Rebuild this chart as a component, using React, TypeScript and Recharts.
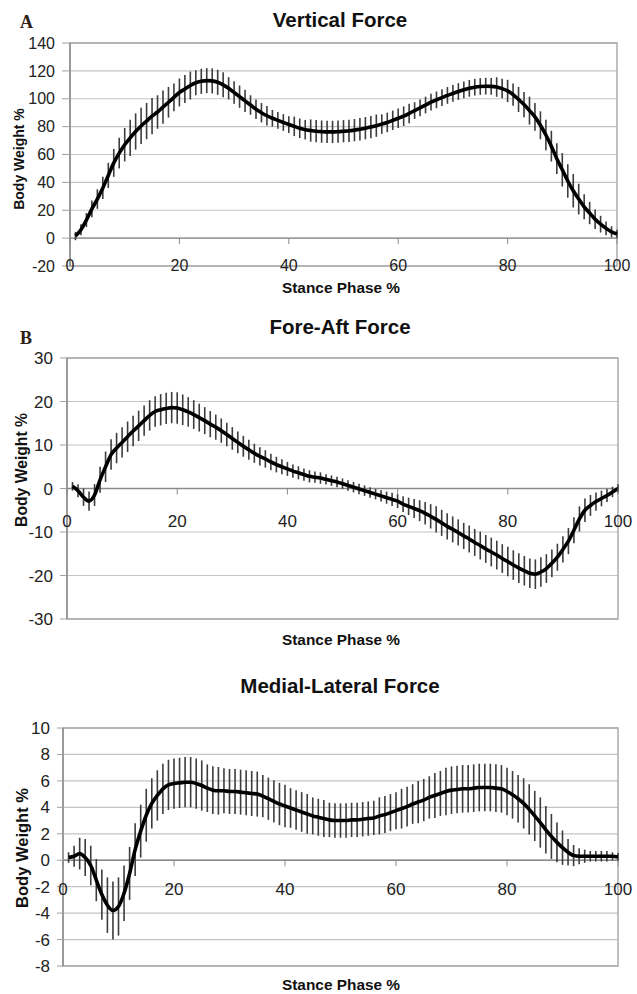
import {
  LineChart,
  Line,
  XAxis,
  YAxis,
  CartesianGrid,
  ErrorBar,
  ReferenceLine,
  ReferenceArea,
} from "recharts";

const FONT = '"Liberation Sans", Arial, sans-serif';
const PAGE_W = 637;
const PAGE_H = 994;

// stance phase 1..100 %
const stance = Array.from({ length: 100 }, (_, i) => i + 1);
const phaseTicks = [0, 20, 40, 60, 80, 100];

// A - vertical force (mean / SD, % body weight)
const verticalMean = [
  1.5, 6, 13, 21, 28, 36, 45, 54, 61, 67,
  72, 76.5, 80.5, 84, 87.5, 90.5, 94, 97.5, 101, 104.5,
  107, 109.5, 111.5, 112.5, 113, 112.8, 111.8, 110, 107.5, 104.5,
  101.5, 98.5, 95.5, 92.5, 90, 87.8, 86, 84.5, 83, 81.5,
  80.2, 78.8, 77.8, 77.2, 76.7, 76.4, 76.2, 76.2, 76.4, 76.7,
  77, 77.5, 78.1, 78.9, 79.7, 80.7, 81.8, 83, 84.5, 86,
  87.5, 89.5, 91.5, 93.5, 95.5, 97.5, 99.2, 100.8, 102.4, 103.8,
  105.2, 106.4, 107.5, 108.3, 108.8, 109, 108.9, 108.4, 107.3, 105.6,
  103, 99.5, 95.8, 91.5, 87, 81, 74, 66, 57, 49,
  41, 34, 28, 22.5, 18, 13.5, 10, 7, 4.5, 3,
];
const verticalSd = [
  3, 4, 5, 6, 7, 8, 9, 10, 11, 12,
  13, 13, 13, 13, 13, 12, 12, 11, 10, 10,
  10, 10, 9, 9, 9, 9, 9, 9, 8, 8,
  8, 8, 7, 7, 7, 7, 6, 6, 6, 6,
  7, 7, 7, 8, 8, 8, 8, 8, 8, 8,
  8, 8, 8, 8, 8, 8, 7, 7, 7, 7,
  7, 7, 6, 6, 6, 6, 6, 6, 6, 6,
  6, 6, 6, 6, 6, 6, 6, 7, 7, 8,
  8, 9, 9, 10, 10, 10, 11, 11, 11, 12,
  12, 12, 11, 9, 8, 7, 6, 5, 4, 3,
];
const verticalTicks = [-20, 0, 20, 40, 60, 80, 100, 120, 140];

// B - fore-aft force
const foreAftMean = [
  0.5, -0.5, -2, -2.9, -1.5, 2, 5, 7.8, 9.3, 10.6,
  11.9, 13.2, 14.4, 15.6, 16.8, 17.7, 18.1, 18.4, 18.6, 18.5,
  18.1, 17.6, 17, 16.3, 15.6, 14.8, 14.1, 13.3, 12.4, 11.5,
  10.6, 9.7, 8.9, 8.1, 7.4, 6.8, 6.1, 5.5, 5, 4.5,
  4, 3.6, 3.2, 2.8, 2.6, 2.4, 2.1, 1.8, 1.5, 1.1,
  0.7, 0.3, -0.1, -0.5, -0.9, -1.3, -1.7, -2.1, -2.5, -2.9,
  -3.6, -4.1, -4.6, -5.1, -5.7, -6.4, -7.1, -7.9, -8.7, -9.4,
  -10.1, -10.9, -11.6, -12.4, -13.1, -13.9, -14.6, -15.3, -16.1, -16.8,
  -17.6, -18.3, -18.9, -19.5, -19.7, -19.2, -18.4, -17.2, -15.8, -14,
  -12.1, -9.6, -7, -5, -3.9, -3, -2.3, -1.6, -0.8, 0,
];
const foreAftSd = [
  1, 1.5, 2, 2.2, 2.5, 3, 3.5, 3.5, 3.5, 3.5,
  3.5, 3.5, 3.5, 3.5, 3.5, 3.5, 3.6, 3.6, 3.6, 3.6,
  3.5, 3.4, 3.3, 3.2, 3.1, 3, 2.9, 2.8, 2.7, 2.6,
  2.5, 2.4, 2.3, 2.2, 2.1, 2, 1.9, 1.8, 1.7, 1.6,
  1.5, 1.5, 1.4, 1.4, 1.3, 1.3, 1.2, 1.2, 1.2, 1.2,
  1.2, 1.2, 1.2, 1.2, 1.2, 1.2, 1.3, 1.4, 1.5, 1.6,
  1.8, 2, 2.2, 2.4, 2.6, 2.8, 3, 3, 3, 3,
  3, 3, 3.1, 3.1, 3.2, 3.2, 3.3, 3.3, 3.3, 3.4,
  3.4, 3.4, 3.4, 3.4, 3.4, 3.4, 3.3, 3.2, 3.1, 3,
  3, 3, 2.9, 2.7, 2.4, 2.1, 1.8, 1.5, 1.2, 1,
];
const foreAftTicks = [-30, -20, -10, 0, 10, 20, 30];

// C - medial-lateral force
const medLatMean = [
  0.2, 0.3, 0.5, 0.2, -0.4, -1.5, -2.6, -3.4, -3.8, -3.5,
  -2.5, -1, 0.8, 2.2, 3.4, 4.3, 4.9, 5.4, 5.7, 5.8,
  5.85, 5.9, 5.9, 5.8, 5.65, 5.45, 5.3, 5.25, 5.25, 5.2,
  5.2, 5.15, 5.1, 5.05, 5, 4.85, 4.65, 4.45, 4.25, 4.1,
  3.95, 3.8, 3.65, 3.5, 3.35, 3.25, 3.15, 3.05, 3, 3,
  3, 3.05, 3.05, 3.1, 3.15, 3.2, 3.35, 3.45, 3.6, 3.75,
  3.9, 4.05, 4.25, 4.4, 4.55, 4.75, 4.9, 5.05, 5.2, 5.3,
  5.35, 5.4, 5.4, 5.45, 5.5, 5.5, 5.5, 5.45, 5.4, 5.2,
  4.95, 4.65, 4.3, 3.85, 3.35, 2.85, 2.3, 1.8, 1.35, 0.95,
  0.6, 0.35, 0.3, 0.3, 0.3, 0.3, 0.3, 0.3, 0.3, 0.25,
];
const medLatSd = [
  0.4, 0.8, 1.2, 1.4, 1.5, 1.6, 1.9, 2.1, 2.2, 2.2,
  2.1, 2, 2, 2, 2, 1.9, 1.9, 1.9, 1.9, 1.9,
  1.9, 1.9, 1.9, 1.9, 1.9, 1.8, 1.8, 1.8, 1.7, 1.7,
  1.7, 1.7, 1.7, 1.7, 1.7, 1.6, 1.6, 1.6, 1.6, 1.6,
  1.5, 1.5, 1.5, 1.5, 1.4, 1.4, 1.4, 1.3, 1.3, 1.3,
  1.3, 1.3, 1.3, 1.3, 1.3, 1.3, 1.4, 1.4, 1.4, 1.4,
  1.5, 1.5, 1.5, 1.6, 1.6, 1.6, 1.7, 1.7, 1.8, 1.8,
  1.8, 1.8, 1.8, 1.8, 1.8, 1.8, 1.8, 1.8, 1.8, 1.8,
  1.8, 1.8, 1.9, 1.9, 1.9, 1.9, 1.8, 1.7, 1.5, 1.3,
  1, 0.8, 0.6, 0.5, 0.4, 0.4, 0.4, 0.4, 0.3, 0.3,
];
const medLatTicks = [-8, -6, -4, -2, 0, 2, 4, 6, 8, 10];

type PanelProps = {
  mean: number[];
  sd: number[];
  ticks: number[];
  plotTop: number;
  plotBottom: number;
  plotLeft: number;
  plotRight: number;
  yTickSize: number;
  labelDy: number; // x tick label centre below the zero line
  fontSize: number;
};

function Panel(p: PanelProps) {
  const rows = stance.map((x, i) => ({ x, mean: p.mean[i], sd: p.sd[i] }));
  const min = p.ticks[0];
  const max = p.ticks[p.ticks.length - 1];
  const zeroDy = ((p.plotBottom - p.plotTop) * (0 - min)) / (max - min);
  const axisH = 20;

  const phaseTick = (props: any) => {
    const { x, y, payload } = props;
    const zy = y - zeroDy;
    return (
      <g>
        <line x1={x} x2={x} y1={zy} y2={zy + 6} stroke="#8a8a8a" strokeWidth={1} />
        <text
          x={x}
          y={zy + p.labelDy}
          textAnchor="middle"
          dominantBaseline="central"
          fontSize={p.fontSize}
          fontFamily={FONT}
          fill="#222"
        >
          {payload.value}
        </text>
      </g>
    );
  };

  return (
    <div style={{ position: "absolute", left: 0, top: 0 }}>
      <LineChart
        width={PAGE_W}
        height={PAGE_H}
        data={rows}
        margin={{
          top: p.plotTop,
          right: PAGE_W - p.plotRight,
          left: 0,
          bottom: PAGE_H - p.plotBottom - axisH,
        }}
      >
        <CartesianGrid vertical={false} stroke="#c4c4c4" strokeWidth={1.2} />
        <ReferenceArea
          x1={0}
          x2={100}
          y1={min}
          y2={max}
          fill="none"
          stroke="#a6a6a6"
          strokeWidth={1.4}
        />
        <XAxis
          type="number"
          dataKey="x"
          domain={[0, 100]}
          ticks={phaseTicks}
          interval={0}
          axisLine={false}
          tickLine={false}
          tickSize={0}
          tickMargin={0}
          height={axisH}
          tick={phaseTick}
        />
        <YAxis
          type="number"
          domain={[min, max]}
          ticks={p.ticks}
          interval={0}
          allowDataOverflow
          width={p.plotLeft}
          tickSize={p.yTickSize}
          tickMargin={7}
          axisLine={{ stroke: "#8a8a8a", strokeWidth: 1.4 }}
          tickLine={{ stroke: "#a0a0a0" }}
          tick={{ fontSize: p.fontSize, fill: "#222", fontFamily: FONT }}
        />
        <ReferenceLine y={0} stroke="#8a8a8a" strokeWidth={1.4} />
        <Line
          dataKey="mean"
          stroke="none"
          dot={false}
          activeDot={false}
          isAnimationActive={false}
        >
          <ErrorBar
            dataKey="sd"
            direction="y"
            width={0}
            stroke="#3c3c3c"
            strokeWidth={1.6}
            isAnimationActive={false}
          />
        </Line>
        <Line
          type="monotone"
          dataKey="mean"
          stroke="#000"
          strokeWidth={3.6}
          dot={false}
          activeDot={false}
          isAnimationActive={false}
        />
      </LineChart>
    </div>
  );
}

function Texts() {
  const bold = { fontFamily: FONT, fontWeight: 700, fill: "#111" } as const;
  const serif = '"Liberation Serif", "Times New Roman", serif';
  const yLabel = (cx: number, cy: number, size: number) => (
    <text
      x={cx}
      y={cy}
      transform={`rotate(-90 ${cx} ${cy})`}
      textAnchor="middle"
      dominantBaseline="central"
      fontSize={size}
      {...bold}
    >
      Body Weight %
    </text>
  );
  return (
    <svg
      width={PAGE_W}
      height={PAGE_H}
      style={{ position: "absolute", left: 0, top: 0, pointerEvents: "none" }}
    >
      <text x={20} y={28} fontFamily={serif} fontWeight={700} fontSize={18} fill="#2e2014">
        A
      </text>
      <text x={20} y={344} fontFamily={serif} fontWeight={700} fontSize={18} fill="#2e2014">
        B
      </text>

      <text x={340} y={27} textAnchor="middle" fontSize={20.5} {...bold}>Vertical Force</text>
      <text x={340} y={334} textAnchor="middle" fontSize={20.5} {...bold}>Fore-Aft Force</text>
      <text x={340} y={693} textAnchor="middle" fontSize={20.5} {...bold}>Medial-Lateral Force</text>

      <text x={341} y={293} textAnchor="middle" fontSize={15.4} {...bold}>Stance Phase %</text>
      <text x={341} y={645} textAnchor="middle" fontSize={15.4} {...bold}>Stance Phase %</text>
      <text x={341} y={990} textAnchor="middle" fontSize={15.4} {...bold}>Stance Phase %</text>

      {yLabel(19, 159, 14)}
      {yLabel(21, 470, 15.7)}
      {yLabel(22, 848, 16.5)}
    </svg>
  );
}

export default function App() {
  return (
    <div
      style={{
        position: "absolute",
        left: 0,
        top: 0,
        width: PAGE_W,
        height: PAGE_H,
        background: "#fff",
        overflow: "hidden",
      }}
    >
      <Panel
        mean={verticalMean}
        sd={verticalSd}
        ticks={verticalTicks}
        plotTop={43}
        plotBottom={266}
        plotLeft={70}
        plotRight={617}
        yTickSize={8}
        labelDy={27}
        fontSize={16}
      />
      <Panel
        mean={foreAftMean}
        sd={foreAftSd}
        ticks={foreAftTicks}
        plotTop={358}
        plotBottom={619}
        plotLeft={67}
        plotRight={618}
        yTickSize={7}
        labelDy={33}
        fontSize={17}
      />
      <Panel
        mean={medLatMean}
        sd={medLatSd}
        ticks={medLatTicks}
        plotTop={728}
        plotBottom={966}
        plotLeft={63}
        plotRight={618}
        yTickSize={6}
        labelDy={29}
        fontSize={17}
      />
      <Texts />
    </div>
  );
}
